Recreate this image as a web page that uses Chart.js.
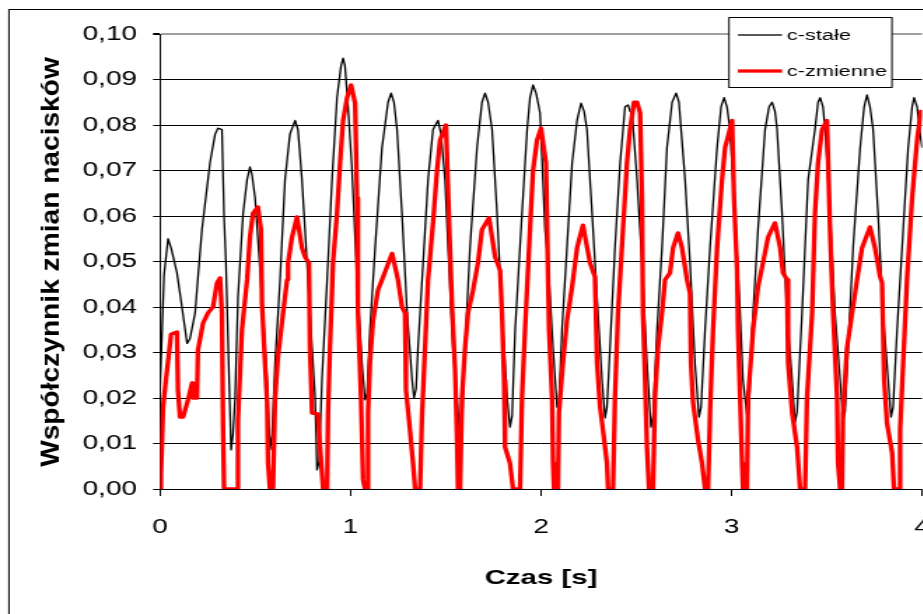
<!DOCTYPE html>
<html>
<head>
<meta charset="utf-8">
<script src="https://cdn.jsdelivr.net/npm/chart.js@4.4.1/dist/chart.umd.min.js"></script>
<style>
  html, body { margin: 0; padding: 0; background: #fff; overflow: hidden; }
  #ramka { position: relative; width: 923px; height: 614px; overflow: hidden; }
  /* oryginal jest rozciagniety w poziomie */
  #wykres { position: absolute; left: 0; top: 0; transform: scaleX(1.4); transform-origin: 0 0; }
</style>
</head>
<body>
<div id="ramka"><canvas id="wykres" width="700" height="614"></canvas></div>
<script>
// Opisy
var tytulX = 'Czas [s]';
var tytulY = 'Współczynnik zmian nacisków';
var nazwy = ['c-stałe', 'c-zmienne'];
var kolory = ['#000000', '#ff0000'];

// Podzialki osi
var podzialkaX = [0, 1, 2, 3, 4];
var podzialkaY = [0, 0.01, 0.02, 0.03, 0.04, 0.05, 0.06, 0.07, 0.08, 0.09, 0.10];

// c-stale : czas [s] i wspolczynnik
var czasStale = [0, 0.011, 0.021, 0.042, 0.058, 0.089, 0.115, 0.142, 0.157, 0.184,
  0.220, 0.262, 0.289, 0.304, 0.325, 0.336, 0.346, 0.362, 0.373, 0.383,
  0.394, 0.409, 0.436, 0.457, 0.472, 0.483, 0.499, 0.535, 0.562, 0.577,
  0.588, 0.604, 0.630, 0.656, 0.682, 0.709, 0.724, 0.745, 0.761, 0.787,
  0.814, 0.824, 0.835, 0.850, 0.877, 0.903, 0.929, 0.950, 0.961, 0.971,
  0.987, 1.008, 1.034, 1.060, 1.076, 1.087, 1.102, 1.129, 1.165, 1.197,
  1.213, 1.228, 1.244, 1.270, 1.297, 1.323, 1.333, 1.344, 1.354, 1.381,
  1.407, 1.433, 1.459, 1.475, 1.496, 1.512, 1.538, 1.559, 1.575, 1.585,
  1.601, 1.627, 1.664, 1.690, 1.706, 1.722, 1.743, 1.769, 1.795, 1.822,
  1.837, 1.848, 1.864, 1.900, 1.927, 1.942, 1.958, 1.974, 1.995, 2.021,
  2.037, 2.063, 2.084, 2.094, 2.110, 2.136, 2.163, 2.189, 2.210, 2.226,
  2.241, 2.268, 2.294, 2.320, 2.336, 2.346, 2.362, 2.388, 2.415, 2.441,
  2.457, 2.467, 2.478, 2.504, 2.530, 2.556, 2.577, 2.588, 2.609, 2.635,
  2.661, 2.688, 2.709, 2.724, 2.756, 2.782, 2.808, 2.829, 2.840, 2.861,
  2.887, 2.924, 2.945, 2.961, 2.976, 2.992, 3.018, 3.045, 3.060, 3.081,
  3.092, 3.108, 3.139, 3.176, 3.197, 3.213, 3.228, 3.239, 3.265, 3.291,
  3.318, 3.333, 3.344, 3.370, 3.402, 3.438, 3.454, 3.465, 3.480, 3.491,
  3.517, 3.543, 3.570, 3.585, 3.596, 3.612, 3.638, 3.675, 3.696, 3.711,
  3.727, 3.743, 3.769, 3.795, 3.822, 3.837, 3.848, 3.869, 3.901, 3.927,
  3.948, 3.958, 3.974, 3.990, 4.000];
var wspStale = [0.022, 0.035, 0.047, 0.055, 0.053, 0.0475, 0.040, 0.032, 0.033, 0.0387,
  0.057, 0.0716, 0.078, 0.0793, 0.079, 0.060, 0.0497, 0.025, 0.0086, 0.012,
  0.020, 0.042, 0.0606, 0.068, 0.0708, 0.069, 0.064, 0.042, 0.024, 0.0086,
  0.012, 0.0277, 0.046, 0.068, 0.078, 0.081, 0.079, 0.068, 0.057, 0.0387,
  0.020, 0.0042, 0.006, 0.024, 0.046, 0.068, 0.086, 0.093, 0.0947, 0.093,
  0.084, 0.070, 0.046, 0.0277, 0.0196, 0.021, 0.035, 0.053, 0.075, 0.085,
  0.087, 0.085, 0.079, 0.0606, 0.0387, 0.024, 0.020, 0.022, 0.031, 0.0497,
  0.068, 0.079, 0.081, 0.078, 0.068, 0.053, 0.031, 0.020, 0.0108, 0.014,
  0.031, 0.053, 0.075, 0.085, 0.087, 0.085, 0.079, 0.0606, 0.0387, 0.020,
  0.0136, 0.016, 0.035, 0.0606, 0.079, 0.086, 0.0888, 0.087, 0.0826, 0.057,
  0.0497, 0.031, 0.018, 0.019, 0.035, 0.053, 0.0716, 0.081, 0.0848, 0.083,
  0.079, 0.0606, 0.042, 0.024, 0.0156, 0.018, 0.031, 0.053, 0.0716, 0.084,
  0.0844, 0.083, 0.0826, 0.068, 0.0497, 0.0277, 0.0136, 0.016, 0.035, 0.053,
  0.075, 0.085, 0.087, 0.085, 0.068, 0.0497, 0.0277, 0.0158, 0.018, 0.035,
  0.053, 0.075, 0.084, 0.086, 0.084, 0.079, 0.0606, 0.0387, 0.024, 0.0163,
  0.018, 0.035, 0.057, 0.079, 0.084, 0.085, 0.083, 0.079, 0.0606, 0.0387,
  0.024, 0.0147, 0.017, 0.0387, 0.068, 0.079, 0.085, 0.086, 0.084, 0.079,
  0.0606, 0.0387, 0.024, 0.0152, 0.017, 0.031, 0.053, 0.075, 0.084, 0.0866,
  0.084, 0.079, 0.0606, 0.0387, 0.024, 0.0158, 0.018, 0.035, 0.057, 0.075,
  0.084, 0.086, 0.084, 0.078, 0.075];

// c-zmienne : czas [s] i wspolczynnik
var czasZmienne = [0, 0.005, 0.011, 0.016, 0.031, 0.042, 0.058, 0.089, 0.094, 0.105,
  0.121, 0.147, 0.168, 0.173, 0.194, 0.199, 0.226, 0.252, 0.278, 0.299,
  0.315, 0.325, 0.331, 0.336, 0.404, 0.409, 0.430, 0.457, 0.472, 0.488,
  0.514, 0.530, 0.535, 0.551, 0.562, 0.567, 0.577, 0.593, 0.604, 0.619,
  0.646, 0.667, 0.672, 0.693, 0.719, 0.745, 0.761, 0.782, 0.787, 0.798,
  0.829, 0.840, 0.856, 0.877, 0.882, 0.892, 0.908, 0.929, 0.945, 0.961,
  0.982, 1.003, 1.024, 1.034, 1.039, 1.055, 1.066, 1.076, 1.087, 1.092,
  1.102, 1.118, 1.144, 1.171, 1.218, 1.249, 1.270, 1.286, 1.291, 1.312,
  1.328, 1.339, 1.365, 1.375, 1.391, 1.407, 1.433, 1.454, 1.470, 1.501,
  1.512, 1.522, 1.533, 1.549, 1.559, 1.564, 1.575, 1.585, 1.601, 1.617,
  1.643, 1.669, 1.690, 1.727, 1.759, 1.785, 1.795, 1.806, 1.811, 1.837,
  1.853, 1.890, 1.900, 1.916, 1.942, 1.958, 1.979, 2.000, 2.026, 2.031,
  2.037, 2.042, 2.058, 2.063, 2.068, 2.089, 2.094, 2.115, 2.136, 2.163,
  2.189, 2.220, 2.257, 2.283, 2.294, 2.310, 2.325, 2.346, 2.352, 2.378,
  2.388, 2.404, 2.430, 2.451, 2.467, 2.488, 2.504, 2.520, 2.530, 2.535,
  2.546, 2.556, 2.567, 2.588, 2.598, 2.614, 2.635, 2.651, 2.677, 2.693,
  2.719, 2.740, 2.766, 2.782, 2.787, 2.798, 2.824, 2.845, 2.861, 2.877,
  2.887, 2.903, 2.924, 2.950, 2.966, 3.003, 3.013, 3.029, 3.034, 3.045,
  3.055, 3.060, 3.081, 3.087, 3.113, 3.139, 3.165, 3.192, 3.228, 3.255,
  3.270, 3.291, 3.297, 3.318, 3.344, 3.360, 3.386, 3.396, 3.423, 3.438,
  3.454, 3.475, 3.501, 3.517, 3.533, 3.554, 3.559, 3.570, 3.580, 3.585,
  3.606, 3.633, 3.659, 3.685, 3.727, 3.753, 3.780, 3.790, 3.801, 3.816,
  3.843, 3.853, 3.879, 3.885, 3.901, 3.921, 3.948, 3.974, 3.995];
var wspZmienne = [0, 0.003, 0.011, 0.018, 0.024, 0.028, 0.034, 0.0345, 0.0218, 0.0158,
  0.0158, 0.0196, 0.0233, 0.020, 0.020, 0.0305, 0.0365, 0.0387, 0.040, 0.0453,
  0.0464, 0.0387, 0.013, 0, 0, 0.015, 0.035, 0.046, 0.0554, 0.0606,
  0.062, 0.057, 0.041, 0.0277, 0.019, 0.0057, 0, 0, 0.020, 0.029,
  0.0387, 0.046, 0.0497, 0.0554, 0.0598, 0.053, 0.051, 0.0497, 0.031, 0.0167,
  0.0165, 0.0092, 0, 0, 0.0167, 0.031, 0.0497, 0.0606, 0.0716, 0.081,
  0.086, 0.0888, 0.0848, 0.064, 0.0387, 0.020, 0.002, 0, 0, 0.0167,
  0.0277, 0.037, 0.0437, 0.0466, 0.0518, 0.046, 0.040, 0.0387, 0.0218, 0.013,
  0.0057, 0, 0, 0.0158, 0.031, 0.046, 0.0585, 0.070, 0.0767, 0.080,
  0.0657, 0.053, 0.040, 0.026, 0.0108, 0, 0, 0.020, 0.031, 0.0387,
  0.0437, 0.0497, 0.057, 0.0596, 0.051, 0.048, 0.0387, 0.024, 0.0092, 0.0057,
  0, 0, 0.020, 0.035, 0.057, 0.070, 0.0767, 0.0793, 0.0716, 0.0606,
  0.046, 0.035, 0.020, 0.0057, 0, 0, 0.0167, 0.0277, 0.037, 0.0444,
  0.053, 0.058, 0.0497, 0.0466, 0.0277, 0.018, 0.013, 0.0057, 0, 0,
  0.020, 0.0387, 0.057, 0.0716, 0.079, 0.085, 0.085, 0.0826, 0.064, 0.0387,
  0.024, 0.0092, 0, 0, 0.020, 0.031, 0.0387, 0.046, 0.0475, 0.053,
  0.0563, 0.053, 0.046, 0.043, 0.0277, 0.019, 0.0108, 0.0057, 0, 0,
  0.0167, 0.035, 0.053, 0.068, 0.075, 0.081, 0.064, 0.048, 0.035, 0.020,
  0.0057, 0, 0, 0.020, 0.035, 0.0444, 0.0497, 0.0554, 0.0585, 0.053,
  0.0475, 0.046, 0.0277, 0.0167, 0.0092, 0, 0, 0.020, 0.0387, 0.0606,
  0.0716, 0.079, 0.081, 0.057, 0.0387, 0.020, 0.0057, 0, 0, 0.0167,
  0.031, 0.0387, 0.046, 0.053, 0.0576, 0.053, 0.0466, 0.0453, 0.024, 0.0145,
  0.0079, 0, 0, 0.013, 0.0277, 0.046, 0.064, 0.0767, 0.0833];

var FONT = '"Liberation Sans", Arial, sans-serif';

function punkty(czas, wsp) {
  return czas.map(function (t, i) { return { x: t, y: wsp[i] }; });
}

// Ramka, tytul osi Y i legenda
var oprawa = {
  id: 'oprawa',
  beforeDraw: function (chart) {
    var ctx = chart.ctx;
    ctx.save();
    ctx.fillStyle = '#fff';
    ctx.fillRect(0, 0, chart.width, chart.height);
    ctx.strokeStyle = '#000';
    ctx.lineWidth = 1;
    ctx.strokeRect(6.4, 9.5, 2000, 2000);
    ctx.restore();
  },
  afterDraw: function (chart) {
    var ctx = chart.ctx;
    // tytul osi Y
    ctx.save();
    ctx.translate(37.1, 262);
    ctx.rotate(-Math.PI / 2);
    ctx.scale(1.34, 0.857);
    ctx.font = 'bold 21px ' + FONT;
    ctx.fillStyle = '#000';
    ctx.textAlign = 'center';
    ctx.textBaseline = 'middle';
    ctx.fillText(tytulY, 0, 0);
    ctx.restore();

    // legenda
    ctx.save();
    ctx.fillStyle = '#fff';
    ctx.fillRect(520.7, 17.5, 116.4, 70);
    ctx.strokeStyle = '#000';
    ctx.lineWidth = 1;
    ctx.strokeRect(520.7, 17.5, 116.4, 70);
    chart.data.datasets.forEach(function (ds, i) {
      var y = 35 + i * 36;
      ctx.beginPath();
      ctx.moveTo(527.1, y);
      ctx.lineTo(558.6, y);
      ctx.strokeStyle = ds.borderColor;
      ctx.lineWidth = ds.borderWidth;
      ctx.stroke();
      ctx.fillStyle = '#000';
      ctx.font = '15.5px ' + FONT;
      ctx.textAlign = 'left';
      ctx.textBaseline = 'middle';
      ctx.fillText(ds.label, 562.1, y + 1);
    });
    ctx.restore();
  }
};

var wykres = new Chart(document.getElementById('wykres'), {
  type: 'line',
  data: {
    datasets: [
      {
        label: nazwy[0],
        data: punkty(czasStale, wspStale),
        borderColor: kolory[0],
        borderWidth: 1.3,
        pointRadius: 0,
        tension: 0,
        borderJoinStyle: 'round',
        order: 2
      },
      {
        label: nazwy[1],
        data: punkty(czasZmienne, wspZmienne),
        borderColor: kolory[1],
        borderWidth: 3.3,
        pointRadius: 0,
        tension: 0,
        borderJoinStyle: 'round',
        order: 1
      }
    ]
  },
  options: {
    responsive: false,
    animation: false,
    devicePixelRatio: 1,
    layout: { padding: { left: 0, right: 41.4, top: 34, bottom: 0 } },
    plugins: {
      legend: { display: false },
      tooltip: { enabled: false }
    },
    scales: {
      x: {
        type: 'linear',
        min: 0,
        max: 4,
        afterBuildTicks: function (s) { s.ticks = podzialkaX.map(function (v) { return { value: v }; }); },
        afterFit: function (s) { s.height = 125; },
        ticks: {
          color: '#000',
          font: { family: FONT, size: 20 },
          padding: 19,
          maxRotation: 0,
          callback: function (v) { return String(v); }
        },
        grid: { drawOnChartArea: false, drawTicks: true, tickLength: 7, color: '#000' },
        border: { color: '#000', width: 1 },
        title: {
          display: true,
          text: tytulX,
          color: '#000',
          font: { family: FONT, size: 21, weight: 'bold' },
          padding: { top: 0, bottom: 23 }
        }
      },
      y: {
        type: 'linear',
        min: 0,
        max: 0.1,
        afterBuildTicks: function (s) { s.ticks = podzialkaY.map(function (v) { return { value: v }; }); },
        afterFit: function (s) { s.width = 114.3; },
        ticks: {
          color: '#000',
          font: { family: FONT, size: 20 },
          padding: 11.4,
          callback: function (v) { return v.toFixed(2).replace('.', ','); }
        },
        grid: {
          drawTicks: true,
          tickLength: 5,
          tickColor: '#000',
          color: function (c) { return (c.tick && c.tick.value > 0.0999) ? '#a0a0a0' : '#000'; },
          lineWidth: function (c) { return (c.tick && c.tick.value > 0.0999) ? 2 : 1; }
        },
        border: { color: '#000', width: 1 }
      }
    }
  },
  plugins: [oprawa]
});
</script>
</body>
</html>
